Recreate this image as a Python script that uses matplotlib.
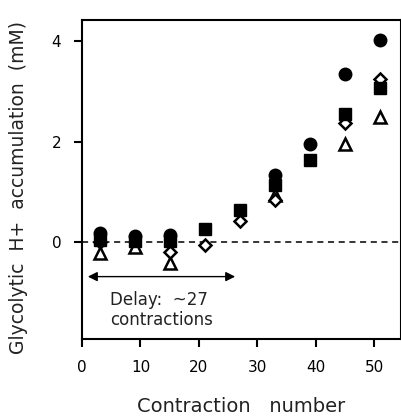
import matplotlib
matplotlib.use("Agg")
import matplotlib.pyplot as plt

plt.rcParams["font.family"] = ["DejaVu Sans"]

# contraction number vs glycolytic H+ accumulation (mM), four runs
circle_x = [3, 9, 15, 33, 39, 45, 51]
circle_y = [0.18, 0.12, 0.14, 1.35, 1.95, 3.35, 4.03]
square_x = [3, 9, 15, 21, 27, 33, 39, 45, 51]
square_y = [0.05, 0.02, 0.02, 0.27, 0.65, 1.15, 1.63, 2.55, 3.07]
diamond_x = [3, 15, 21, 27, 33, 45, 51]
diamond_y = [0.0, -0.2, -0.06, 0.42, 0.85, 2.38, 3.25]
triangle_x = [3, 9, 15, 33, 45, 51]
triangle_y = [-0.22, -0.1, -0.4, 0.95, 1.95, 2.5]

x_ticks = [0, 10, 20, 30, 40, 50]
y_ticks = [0, 2, 4]

fig = plt.figure(figsize=(4.02, 4.19), dpi=100)
ax = fig.add_axes([0.204, 0.191, 0.794, 0.761])

ax.axhline(0, color="black", linestyle=(0, (4, 3)), linewidth=1.1, zorder=1)

ax.plot(triangle_x, triangle_y, "^", ms=8, mfc="white", mec="black", mew=1.8, ls="none", zorder=2)
ax.plot(diamond_x, diamond_y, "D", ms=6.5, mfc="white", mec="black", mew=1.8, ls="none", zorder=3)
ax.plot(square_x, square_y, "s", ms=8, color="black", ls="none", zorder=4)
ax.plot(circle_x, circle_y, "o", ms=9, color="black", ls="none", zorder=5)

ax.annotate("", xy=(1.0, -0.68), xytext=(26.2, -0.68),
            arrowprops=dict(arrowstyle="<|-|>", color="black", lw=1.0,
                            mutation_scale=14, shrinkA=0, shrinkB=0))
ax.text(4.8, -0.97, "Delay:  ~27\ncontractions", ha="left", va="top",
        fontsize=12, linespacing=1.15, color="#222222")

ax.set_xlim(0, 54.6)
ax.set_ylim(-1.92, 4.42)
ax.set_xticks(x_ticks)
ax.set_yticks(y_ticks)
ax.tick_params(direction="out", length=6, width=1.5, labelsize=11, pad=9)
for s in ax.spines.values():
    s.set_linewidth(1.5)

ax.set_xlabel("Contraction   number", fontsize=14, labelpad=16, color="#222222")
ax.set_ylabel("Glycolytic  H+  accumulation  (mM)", fontsize=13.5, color="#222222")
ax.yaxis.set_label_coords(-0.17, 0.475)

fig.savefig("out.png", dpi=100)
